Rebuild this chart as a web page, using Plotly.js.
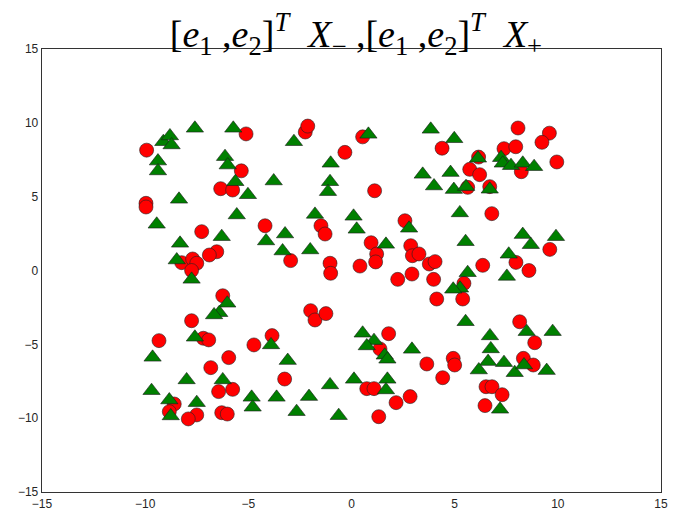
<!DOCTYPE html>
<html>
<head>
<meta charset="utf-8">
<script src="https://cdn.plot.ly/plotly-3.0.1.min.js"></script>
<style>html,body{margin:0;padding:0;background:#fff;}</style>
</head>
<body>
<div id="chart" style="width:678px;height:526px;"></div>
<script>
// X_- projected points (red circles)
const redX = [-9.93,-5.11,-2.24,-2.12,-0.32,0.54,4.39,8.07,9.59,9.23,7.39,7.96,9.95,6.16,5.73,6.21,8.23,5.63,6.7,6.8,9.61,7.97,8.6,6.36,
  -5.34,-6.34,-5.76,-9.96,-9.96,-7.26,-6.53,-6.89,-8.23,-7.7,-7.5,-7.75,
  1.12,2.59,0.95,1.22,1.17,0.41,2.87,2.95,3.27,3.77,4.05,2.24,2.93,3.98,4.13,5.45,5.39,
  -4.19,-1.48,-1.28,-2.95,-1.04,-1.01,
  8.15,8.88,8.33,8.81,4.93,5.0,6.52,6.81,7.3,6.47,
  1.8,1.38,3.65,4.42,0.74,1.09,2.16,2.84,1.32,
  -6.24,-7.75,-7.18,-6.92,-9.33,-5.95,-6.82,-6.44,-5.76,-8.59,-8.83,-7.5,-7.91,-6.29,-6.02,
  -1.98,-1.77,-1.24,-3.85,-4.73,-3.24];
const redY = [8.15,9.25,9.38,9.78,8.0,9.05,8.28,9.65,9.3,8.68,8.25,8.38,7.35,7.68,6.85,6.49,6.69,5.63,5.68,3.85,1.43,0.55,0.0,0.35,
  6.75,5.54,5.45,4.55,4.3,2.63,1.27,1.05,0.53,0.78,0.49,0.0,
  5.4,3.37,1.88,1.12,0.58,0.3,1.68,1.0,1.12,0.44,0.6,-0.6,-0.24,-0.6,-1.93,-0.87,-1.93,
  3.03,3.03,2.47,0.67,0.49,-0.19,
  -3.47,-4.89,-5.95,-6.4,-5.95,-6.4,-7.87,-7.87,-8.41,-9.15,
  -4.28,-5.31,-6.33,-7.26,-8.0,-8.0,-8.95,-8.54,-9.9,
  -1.71,-3.4,-4.59,-4.7,-4.75,-5.9,-6.58,-8.2,-8.05,-9.04,-9.56,-9.78,-10.05,-9.63,-9.72,
  -2.72,-3.35,-2.92,-4.41,-5.04,-7.35];

// X_+ projected points (green triangles)
const greenX = [-7.59,-5.73,-9.12,-8.8,-8.72,-9.38,-9.38,-6.13,-6.0,-5.63,-5.02,-8.36,-5.56,-9.44,-6.29,-8.31,-8.47,-7.75,
  -2.79,-1.01,-3.77,-1.04,-1.14,-1.77,0.1,0.25,-3.22,-4.14,-3.34,-2.0,
  0.82,3.84,4.98,3.45,4.8,4.0,4.96,5.25,2.79,1.67,
  7.25,7.33,7.73,8.3,8.85,6.13,5.55,6.7,5.53,8.3,8.69,9.91,7.62,5.63,7.53,5.26,4.93,
  5.53,8.49,9.75,6.71,6.75,6.62,7.39,6.17,7.91,9.46,8.36,7.2,
  0.54,1.09,0.74,1.61,1.74,2.93,0.12,1.74,1.67,
  -6.02,-6.41,-6.66,-7.59,-9.64,-7.99,-6.24,-9.69,-8.83,-8.76,-7.5,
  -3.9,-3.09,-4.84,-4.79,-3.63,-2.06,-2.66,-1.04,-0.62];
const greenY = [9.63,9.63,8.72,9.11,8.5,7.41,6.74,7.71,7.14,6.01,5.13,4.82,3.76,3.13,2.29,1.84,0.71,-0.6,
  8.72,7.26,6.06,6.01,5.34,3.8,3.67,2.79,2.47,2.0,1.32,1.39,
  9.22,9.56,8.92,6.51,6.63,5.72,5.48,3.9,2.86,1.77,
  7.64,7.26,7.1,7.26,7.03,7.6,5.68,5.5,1.95,2.43,1.75,2.29,1.1,-0.15,-0.4,-1.2,-1.27,
  -3.47,-4.14,-4.14,-4.43,-5.31,-6.17,-6.24,-6.74,-6.92,-6.78,-6.4,-9.4,
  -4.25,-4.75,-5.11,-5.74,-6.01,-5.34,-7.37,-7.37,-8.09,
  -2.22,-2.86,-3.01,-4.52,-5.88,-7.41,-7.41,-8.14,-8.77,-9.85,-8.95,
  -5.04,-6.1,-8.59,-9.26,-8.59,-8.54,-9.56,-7.75,-9.83];

const tickVals = [-15,-10,-5,0,5,10,15];
const tickText = ['\u221215','\u221210','\u22125','0','5','10','15'];

const traces = [
  {x: redX, y: redY, type: 'scatter', mode: 'markers', name: 'X_-',
   marker: {symbol: 'circle', size: 14, color: '#ff0000', line: {color: '#222222', width: 0.6}}},
  {x: greenX, y: greenY, type: 'scatter', mode: 'markers', name: 'X_+',
   marker: {symbol: 'triangle-up', size: 15, color: '#008000', line: {color: '#1a1a1a', width: 0.6}}}
];

const axisCommon = {
  range: [-15, 15], tickvals: tickVals, ticktext: tickText,
  showgrid: false, zeroline: false, showline: true, mirror: true,
  linecolor: '#333333', linewidth: 1.3, ticks: '',
  tickfont: {family: 'Liberation Sans, Arial, sans-serif', size: 12, color: '#262626'}
};

const title = '[<i>e</i><sub>1</sub> ,<i>e</i><sub>2</sub>]<sup><i>T</i></sup>  <i>X</i><sub>\u2212</sub> ,' +
              '[<i>e</i><sub>1</sub> ,<i>e</i><sub>2</sub>]<sup><i>T</i></sup>  <i>X</i><sub>+</sub>';

const layout = {
  width: 678, height: 526,
  margin: {l: 42, r: 17, t: 49, b: 34},
  paper_bgcolor: '#ffffff', plot_bgcolor: '#ffffff',
  showlegend: false,
  title: {text: title, x: 0.525, xanchor: 'center', xref: 'container', y: 0.936, yref: 'container', yanchor: 'middle',
          font: {family: 'Liberation Serif, DejaVu Serif, serif', size: 38, color: '#000000'}},
  xaxis: Object.assign({}, axisCommon),
  yaxis: Object.assign({}, axisCommon)
};

Plotly.newPlot('chart', traces, layout, {displayModeBar: false, staticPlot: true});
</script>
</body>
</html>
